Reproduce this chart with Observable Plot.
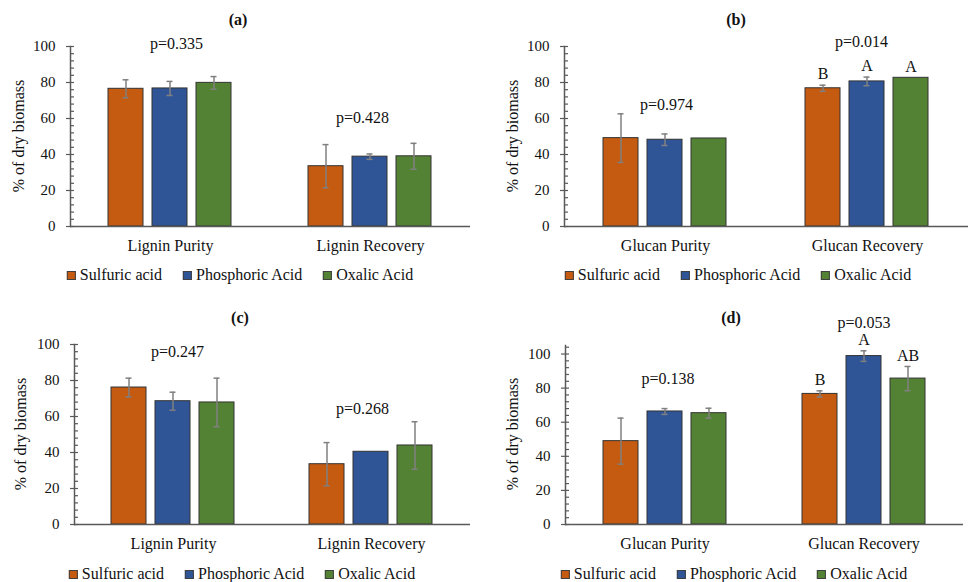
<!DOCTYPE html>
<html><head><meta charset="utf-8">
<script src="https://cdn.jsdelivr.net/npm/d3@7"></script>
<script src="https://cdn.jsdelivr.net/npm/@observablehq/plot@0.6"></script>
<style>
body{margin:0;background:#fff;}
#root{position:relative;width:968px;height:582px;overflow:hidden;font-family:"Liberation Serif",serif;color:#111;background:#fff;}
.panel{position:absolute;width:484px;height:291px;}
.panel svg{position:absolute;left:0;top:0;}
.abs{position:absolute;white-space:nowrap;line-height:1;}
.legend{position:absolute;display:flex;align-items:center;gap:21px;transform:translate(-50%,-50%);font-size:16px;white-space:nowrap;line-height:1;}
.item{display:flex;align-items:center;gap:4px;}
.sw{width:7px;height:7px;border:1px solid #404040;}
</style></head><body><div id="root"></div>
<script>
// ---- data ----
const series = ["Sulfuric acid", "Phosphoric Acid", "Oxalic Acid"];
const seriesColors = ["#C55A11", "#2F5597", "#548235"];
const ligninCategories = ["Lignin Purity", "Lignin Recovery"];
const glucanCategories = ["Glucan Purity", "Glucan Recovery"];

// values[category][series]
const aValues = [[76.5, 76.7, 79.8], [33.5, 38.8, 39.0]];
const aErrors = [[5.0, 3.9, 3.5], [12.0, 1.5, 7.2]];
const aPLabels = ["p=0.335", "p=0.428"];

const bValues = [[49.1, 48.2, 48.9], [76.8, 80.6, 82.6]];
const bErrors = [[13.5, 3.2, 0], [1.7, 2.4, 0]];
const bLetters = [["", "", ""], ["B", "A", "A"]];
const bPLabels = ["p=0.974", "p=0.014"];

const cValues = [[76.1, 68.5, 67.8], [33.5, 40.4, 43.9]];
const cErrors = [[5.2, 5.0, 13.5], [12.0, 0, 13.2]];
const cPLabels = ["p=0.247", "p=0.268"];

const dValues = [[48.9, 66.3, 65.3], [76.6, 98.8, 85.6]];
const dErrors = [[13.5, 1.7, 2.9], [1.8, 3.1, 7.1]];
const dLetters = [["", "", ""], ["B", "A", "AB"]];
const dPLabels = ["p=0.138", "p=0.053"];

// annotation anchors for p-value labels (in y data units)
const aPLabelY = [101.5, 60.5];
const bPLabelY = [67.5, 102.5];
const cPLabelY = [95.8, 64.3];
const dPLabelY = [85.5, 118];

const majorTicks = [0, 20, 40, 60, 80, 100];
const yAxisTitle = "% of dry biomass";

// ---- layout ----
const panels = [
  {title:"(a)", cats:ligninCategories, values:aValues, errors:aErrors, letters:null, p:aPLabels, pY:aPLabelY, pDx:[6, -8],
   left:0, top:0, height:270, mt:46, mb:44, ml:70, mr:14, yMax:100, titleX:238, titleY:20, legX:240, legY:275, ylx:19, yly:136},
  {title:"(b)", cats:glucanCategories, values:bValues, errors:bErrors, letters:bLetters, p:bPLabels, pY:bPLabelY, pDx:[1, -6],
   left:484, top:0, height:270, mt:46, mb:44, ml:80, mr:0, yMax:100, titleX:252, titleY:20, legX:254, legY:275, ylx:29, yly:136},
  {title:"(c)", cats:ligninCategories, values:cValues, errors:cErrors, letters:null, p:cPLabels, pY:cPLabelY, pDx:[4, -9],
   left:0, top:291, height:270, mt:53, mb:37, ml:73, mr:14, yMax:100, titleX:240, titleY:27, legX:242, legY:283, ylx:21, yly:143},
  {title:"(d)", cats:glucanCategories, values:dValues, errors:dErrors, letters:dLetters, p:dPLabels, pY:dPLabelY, pDx:[3, 0],
   left:484, top:291, height:270, mt:54, mb:37, ml:80, mr:5, yMax:105, titleX:247, titleY:27, legX:250, legY:283, ylx:29, yly:143}
];

const root = document.getElementById("root");
const axisColor = "#595959";
const textColor = "#111";
const serifFont = "'Liberation Serif', serif";

for (const P of panels) {
  const div = document.createElement("div");
  div.className = "panel";
  div.style.left = P.left + "px";
  div.style.top = P.top + "px";
  root.appendChild(div);

  const rows = [];
  P.cats.forEach((c, i) => series.forEach((s, j) => {
    const v = P.values[i][j], e = P.errors[i][j];
    rows.push({category:c, series:s, value:v, err:e, lo:v - e, hi:v + e,
               letter: P.letters ? P.letters[i][j] : ""});
  }));
  const errRows = rows.filter(d => d.err > 0);
  const letterRows = rows.filter(d => d.letter);
  const pRows = P.cats.map((c, i) => ({category:c, label:P.p[i], y:P.pY[i], dx:P.pDx[i]}));
  const minorTicks = d3.range(0, P.yMax + 0.001, 4).filter(t => t % 20 !== 0);

  const chart = Plot.plot({
    width: 484, height: P.height,
    marginTop: P.mt, marginBottom: P.mb, marginLeft: P.ml, marginRight: P.mr,
    style: {background:"transparent", fontFamily:serifFont, fontSize:"15px", color:textColor, overflow:"visible"},
    fx: {domain: P.cats, padding: 0, axis: null},
    x: {domain: series, paddingInner: 0.2, paddingOuter: 0.85, axis: null},
    y: {domain: [0, P.yMax], axis: null},
    color: {domain: series, range: seriesColors},
    marks: [
      Plot.barY(rows, {fx:"category", x:"series", y:"value", fill:"series", stroke:"#333", strokeWidth:1}),
      Plot.ruleX(errRows, {fx:"category", x:"series", y1:"lo", y2:"hi", stroke:"#808080", strokeWidth:1.5}),
      Plot.tickY(errRows, {fx:"category", x:"series", y:"hi", stroke:"#808080", strokeWidth:1.5, insetLeft:14.5, insetRight:14.5}),
      Plot.tickY(errRows, {fx:"category", x:"series", y:"lo", stroke:"#808080", strokeWidth:1.5, insetLeft:14.5, insetRight:14.5}),
      Plot.ruleY([0], {stroke:axisColor, strokeWidth:1.5}),
      Plot.frame({anchor:"left", facetAnchor:"left", stroke:axisColor, strokeWidth:1.5}),
      Plot.axisY({ticks: majorTicks.filter(t => t <= P.yMax), tickSize:8, dx:4, tickPadding:11, fontSize:15, fontFamily:serifFont, stroke:axisColor, fill:textColor, strokeWidth:1.2}),
      Plot.axisY({ticks: minorTicks, tickSize:4, dx:4, tickFormat: () => "", stroke:axisColor, strokeWidth:1.2}),
      Plot.axisFx({anchor:"bottom", tickSize:0, tickPadding:13, fontSize:16, fontFamily:serifFont, label:null, fill:textColor}),
      Plot.text(letterRows, {fx:"category", x:"series", y:"hi", text:"letter", dy:-11, fontSize:16, fontFamily:serifFont, fill:textColor}),
      ...pRows.map(r => Plot.text([r], {fx:"category", y:"y", text:"label", dx:r.dx, fontSize:16, fontFamily:serifFont, fill:textColor}))
    ]
  });
  div.appendChild(chart);

  // title
  const t = document.createElement("div");
  t.className = "abs";
  t.textContent = P.title;
  t.style.cssText += `left:${P.titleX}px;top:${P.titleY}px;transform:translate(-50%,-50%);font-weight:bold;font-size:16px;`;
  div.appendChild(t);

  // y axis title
  const yl = document.createElement("div");
  yl.className = "abs";
  yl.textContent = yAxisTitle;
  yl.style.cssText += `left:${P.ylx}px;top:${P.yly}px;transform:translate(-50%,-50%) rotate(-90deg);font-size:16px;`;
  div.appendChild(yl);

  // legend
  const lg = document.createElement("div");
  lg.className = "legend";
  lg.style.left = P.legX + "px";
  lg.style.top = P.legY + "px";
  series.forEach((s, j) => {
    const it = document.createElement("div");
    it.className = "item";
    const sw = document.createElement("span");
    sw.className = "sw";
    sw.style.background = seriesColors[j];
    const tx = document.createElement("span");
    tx.textContent = s;
    it.appendChild(sw); it.appendChild(tx);
    lg.appendChild(it);
  });
  div.appendChild(lg);
}
</script>
</body></html>
